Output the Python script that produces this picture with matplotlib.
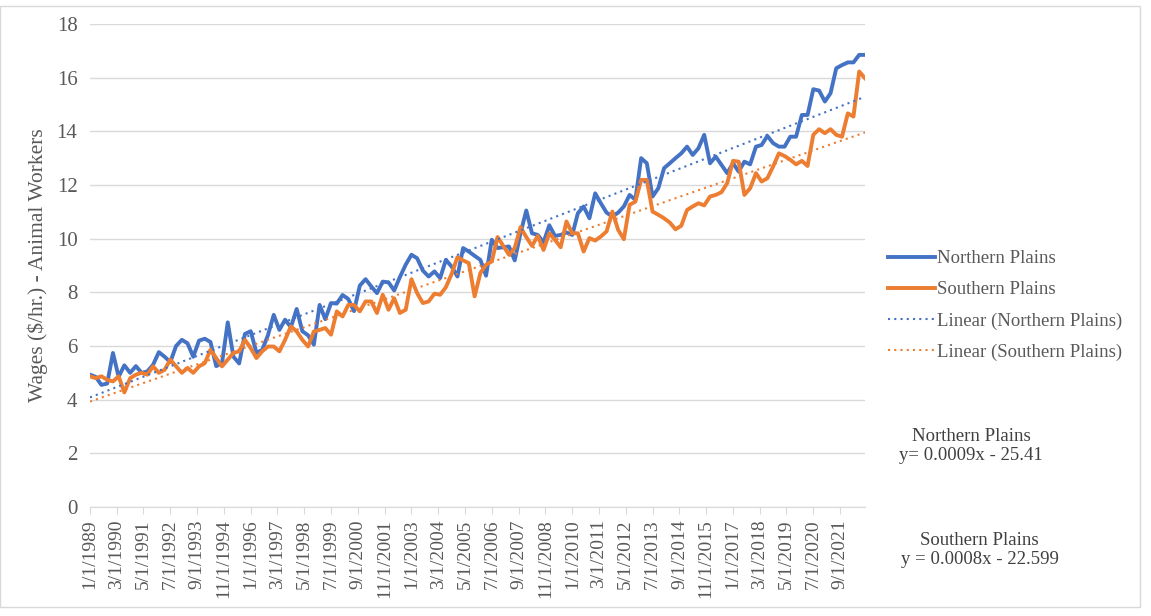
import matplotlib.pyplot as plt
import matplotlib.dates as mdates
from matplotlib.patches import Rectangle
import numpy as np
import pandas as pd

plt.rcParams['font.family'] = ['Liberation Serif', 'DejaVu Serif']

# quarterly wages, Jan 1989 .. Oct 2022
start = "1989-01-01"
n_points = 136

northern = [4.93, 4.85, 4.55, 4.6, 5.74, 4.85, 5.28, 5.0, 5.25, 5.0,
            5.05, 5.3, 5.77, 5.6, 5.4, 6.0, 6.23, 6.1, 5.6, 6.2,
            6.27, 6.15, 5.25, 5.36, 6.88, 5.6, 5.35, 6.45, 6.55, 5.75,
            5.85, 6.4, 7.16, 6.6, 6.98, 6.7, 7.38, 6.55, 6.4, 6.05,
            7.53, 7.0, 7.6, 7.58, 7.9, 7.75, 7.3, 8.25,
            8.49, 8.22, 7.97, 8.40, 8.37, 8.07, 8.57, 9.03, 9.40, 9.27,
            8.81, 8.59, 8.78, 8.53, 9.21, 8.96, 8.59, 9.65, 9.52, 9.36,
            9.21, 8.62, 9.96, 9.65, 9.68, 9.71, 9.19, 10.2, 11.05, 10.2,
            10.14, 9.86, 10.5, 10.1, 10.14, 10.23, 10.14, 10.95, 11.2, 10.76,
            11.69, 11.32, 10.97, 10.83, 10.97, 11.2, 11.63, 11.45,
            13.0, 12.81, 11.57, 11.88, 12.63, 12.81, 13.0, 13.18, 13.43, 13.12,
            13.37, 13.87, 12.81, 13.06, 12.75, 12.44, 12.81, 12.5, 12.87, 12.77,
            13.43, 13.49, 13.83, 13.56, 13.43, 13.43, 13.8, 13.8, 14.61, 14.61,
            15.57, 15.52, 15.11, 15.42, 16.35, 16.47, 16.57, 16.57, 16.85, 16.85]

southern = [4.87, 4.8, 4.87, 4.74, 4.68, 4.87, 4.27, 4.8, 4.93, 5.0,
            4.93, 5.24, 5.0, 5.11, 5.49, 5.24, 5.0, 5.18, 5.0, 5.24,
            5.36, 5.86, 5.55, 5.24, 5.49, 5.74, 5.8, 6.23, 5.92, 5.55,
            5.8, 5.98, 5.98, 5.8, 6.23, 6.73, 6.54, 6.23, 5.98, 6.54,
            6.6, 6.67, 6.42, 7.29, 7.1, 7.53, 7.53, 7.29,
            7.66, 7.66, 7.23, 7.91, 7.35, 7.78, 7.23, 7.35, 8.49, 7.97,
            7.60, 7.66, 7.95, 7.91, 8.19, 8.69, 9.31, 9.19, 9.09, 7.85,
            8.72, 9.03, 9.15, 10.06, 9.73, 9.40, 9.65, 10.43, 10.06, 9.73,
            10.1, 9.58, 10.2, 9.96, 9.68, 10.64, 10.2, 10.2, 9.52, 10.02,
            9.93, 10.08, 10.27, 11.01, 10.33, 9.98, 11.26, 11.38,
            12.19, 12.19, 11.01, 10.89, 10.76, 10.6, 10.35, 10.48, 11.07, 11.2,
            11.32, 11.24, 11.57, 11.63, 11.73, 12.07, 12.9, 12.87, 11.63, 11.88,
            12.44, 12.13, 12.25, 12.69, 13.18, 13.08, 12.94, 12.77, 12.9, 12.71,
            13.87, 14.08, 13.93, 14.08, 13.87, 13.8, 14.67, 14.55, 16.23, 15.98]

eq_north = "Northern Plains\ny= 0.0009x - 25.41"
eq_south = "Southern Plains\ny = 0.0008x - 22.599"

dates = pd.date_range(start, periods=n_points, freq="QS-JAN")
xnum = mdates.date2num(dates)

blue = "#4472C4"
orange = "#ED7D31"
grid_c = "#D9D9D9"
text_c = "#595959"

fig = plt.figure(figsize=(11.51, 6.16), dpi=100)
ax = fig.add_axes([0.0782, 0.177, 0.6733, 0.784])

ax.plot(dates, northern, color=blue, lw=2.8, solid_joinstyle="round", label="Northern Plains")
ax.plot(dates, southern, color=orange, lw=2.8, solid_joinstyle="round", label="Southern Plains")

# linear trendlines
for vals, c, name in [(northern, blue, "Linear (Northern Plains)"),
                      (southern, orange, "Linear (Southern Plains)")]:
    p = np.polyfit(xnum, vals, 1)
    ax.plot(dates[[0, -1]], np.polyval(p, xnum[[0, -1]]), color=c, lw=1.5,
            linestyle=(0, (1, 2)), label=name)

ax.set_ylim(0, 18)
ax.set_yticks(range(0, 19, 2))
ax.set_xlim(dates[0], dates[-1])

ticks = pd.date_range(start, "2021-09-01", freq="14MS")
ax.set_xticks(ticks)
ax.set_xticklabels([f"{d.month}/{d.day}/{d.year}" for d in ticks], rotation=90)

ax.grid(axis="y", color=grid_c, lw=1)
ax.set_axisbelow(True)
for s in ["top", "right", "left"]:
    ax.spines[s].set_visible(False)
ax.spines["bottom"].set_color(grid_c)
ax.tick_params(axis="y", length=0, pad=9, labelsize=15, labelcolor=text_c)
ax.tick_params(axis="x", length=5, color=grid_c, pad=4, labelsize=14, labelcolor=text_c)

ax.set_ylabel("Wages ($/hr.) - Animal Workers", fontsize=15.5, color=text_c, labelpad=6)

fig.legend(loc="center left", bbox_to_anchor=(0.757, 0.504), frameon=False,
           fontsize=13.5, labelcolor=text_c, handlelength=2.5, handletextpad=0.1,
           labelspacing=0.75)

fig.text(0.8436, 0.276, eq_north, ha="center", va="center", fontsize=13.5,
         color="#404040", linespacing=1.1)
fig.text(0.851, 0.107, eq_south, ha="center", va="center", fontsize=13.5,
         color="#404040", linespacing=1.1)

fig.patches.append(Rectangle((0, 0.0146), 0.9904, 0.975, transform=fig.transFigure,
                             fill=False, edgecolor=grid_c, lw=1))

fig.savefig("out.png", dpi=100)
